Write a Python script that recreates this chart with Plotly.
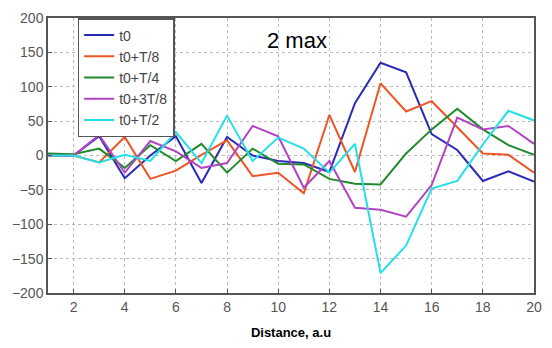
import plotly.graph_objects as go

x = list(range(1, 21))
names = ["t0", "t0+T/8", "t0+T/4", "t0+3T/8", "t0+T/2"]
t0 = [0, 0, 28, -33, 0, 28, -40, 27, 0, -8, -11, -24, 76, 135, 121, 31, 8, -37, -23, -38]
t0_T8 = [0, 0, -10, 27, -34, -22, 1, 22, -30, -25, -55, 59, -24, 105, 64, 79, 41, 3, 1, -25]
t0_T4 = [3, 2, 10, -18, 15, -8, 17, -25, 10, -12, -13, -34, -41, -42, 3, 38, 68, 38, 15, 1]
t0_3T8 = [0, 0, 30, -25, 21, 6, -18, -11, 43, 28, -47, -8, -76, -79, -89, -43, 55, 38, 43, 17]
t0_T2 = [0, 0, -10, 1, -8, 34, -11, 58, -8, 26, 10, -25, 17, -171, -131, -48, -37, 16, 65, 51]
series = [t0, t0_T8, t0_T4, t0_3T8, t0_T2]
colors = ["#2a2ab8", "#ee5526", "#1f8a2c", "#b244c4", "#22e0e6"]

fig = go.Figure()
for n, s, c in zip(names, series, colors):
    fig.add_trace(go.Scatter(x=x, y=s, mode="lines", name=n,
                             line=dict(color=c, width=2)))

axis_common = dict(showline=True, linecolor="#555555", linewidth=1.5, mirror=True,
                   showgrid=True, gridcolor="#bbbbbb", griddash="dot", gridwidth=1,
                   zeroline=False, ticks="inside", ticklen=4, tickcolor="#555555",
                   tickfont=dict(family="Liberation Sans, Arial", size=14, color="#555555"))

fig.update_layout(
    width=552, height=348,
    margin=dict(l=48, r=10, t=13, b=51),
    paper_bgcolor="white", plot_bgcolor="white",
    xaxis=dict(range=[1, 20], tickvals=list(range(2, 21, 2)),
               title=dict(text="<b>Distance, a.u</b>", standoff=14,
                          font=dict(family="Liberation Sans, Arial", size=13, color="black")),
               **axis_common),
    yaxis=dict(range=[-200, 200], tickvals=list(range(-200, 201, 50)), **axis_common),
    legend=dict(x=0.061, y=1, xanchor="left", yanchor="top",
                bordercolor="#555555", borderwidth=1.5, bgcolor="white",
                font=dict(family="Liberation Sans, Arial", size=14, color="#444444"),
                itemwidth=30, tracegroupgap=0),
    showlegend=True,
    annotations=[dict(text="2 max", x=12, y=168, xref="x", yref="y", xanchor="right",
                      showarrow=False, font=dict(family="Liberation Sans, Arial", size=22, color="black"))],
)

fig.write_html("out.html")
